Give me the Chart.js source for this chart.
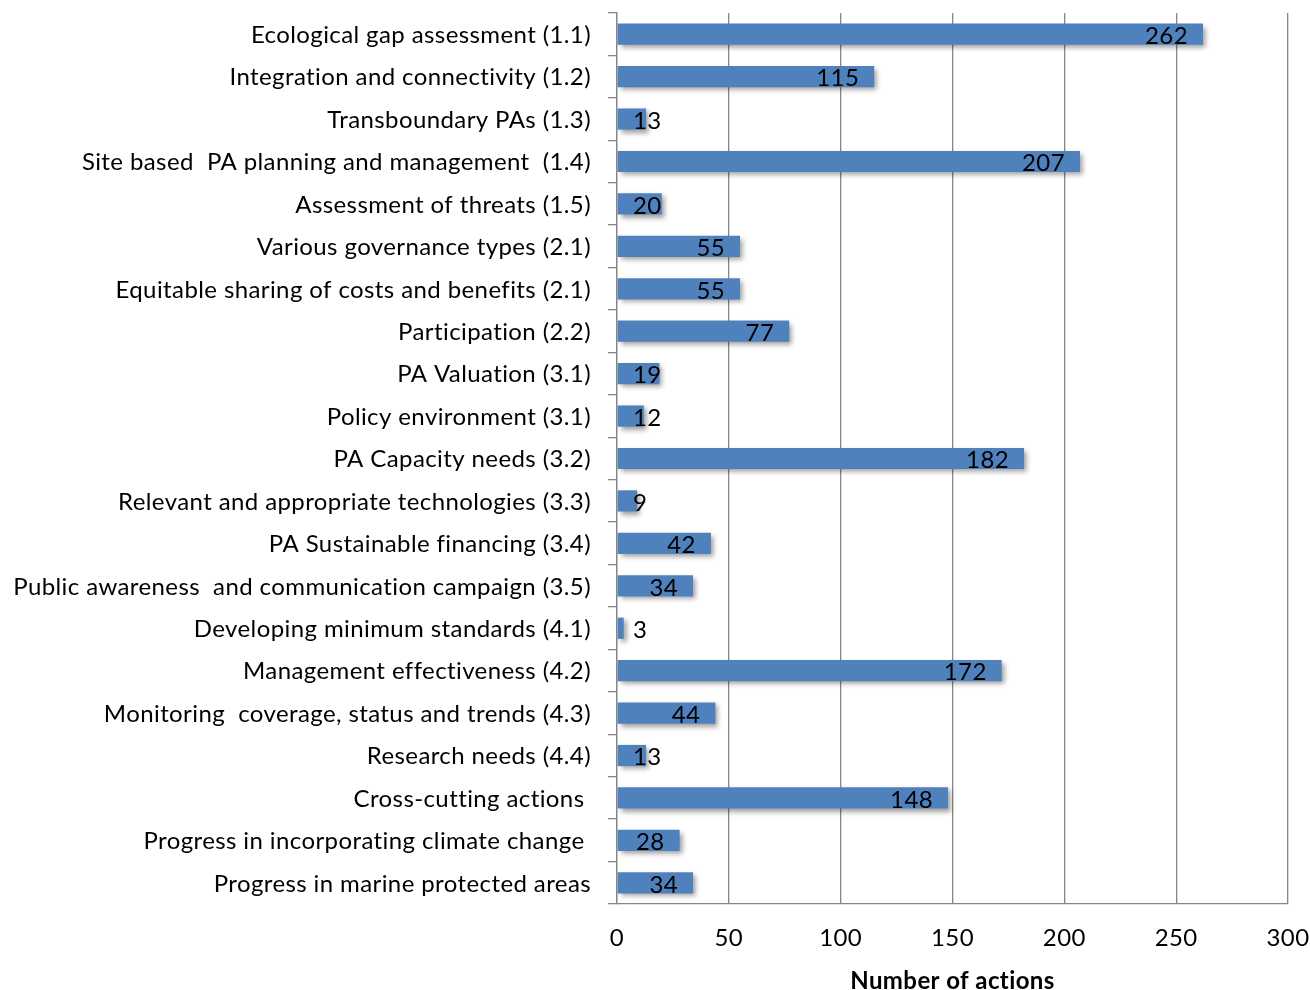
<!DOCTYPE html>
<html>
<head>
<meta charset="utf-8">
<script src="https://cdn.jsdelivr.net/npm/chart.js@4.4.1/dist/chart.umd.min.js"></script>
<style>
  html, body { margin: 0; padding: 0; background: #fff; }
  #wrap { width: 1310px; height: 990px; }
</style>
</head>
<body>
<div id="wrap"><canvas id="c" width="1310" height="990"></canvas></div>
<script>
// Protected-area action categories (with programme element numbers)
const categories = [
  "Ecological gap assessment (1.1)",
  "Integration and connectivity (1.2)",
  "Transboundary PAs (1.3)",
  "Site based  PA planning and management  (1.4)",
  "Assessment of threats (1.5)",
  "Various governance types (2.1)",
  "Equitable sharing of costs and benefits (2.1)",
  "Participation (2.2)",
  "PA Valuation (3.1)",
  "Policy environment (3.1)",
  "PA Capacity needs (3.2)",
  "Relevant and appropriate technologies (3.3)",
  "PA Sustainable financing (3.4)",
  "Public awareness  and communication campaign (3.5)",
  "Developing minimum standards (4.1)",
  "Management effectiveness (4.2)",
  "Monitoring  coverage, status and trends (4.3)",
  "Research needs (4.4)",
  "Cross-cutting actions ",
  "Progress in incorporating climate change ",
  "Progress in marine protected areas"
];

// Number of actions reported per category
const actionCounts = [262, 115, 13, 207, 20, 55, 55, 77, 19, 12, 182, 9, 42, 34, 3, 172, 44, 13, 148, 28, 34];

// Horizontal axis ticks
const xTickValues = [0, 50, 100, 150, 200, 250, 300];
const xAxisTitle = "Number of actions";

const FONT = "Lato, 'Open Sans', sans-serif";
const BAR_BLUE = "#4F81BD";
const AXIS_GREY = "#868686";

// Slightly open letter spacing for all chart text
const textSpacing = {
  id: "textSpacing",
  beforeDraw(chart) { chart.ctx.letterSpacing = "0.4px"; },
  afterDraw(chart) { chart.ctx.letterSpacing = "0px"; }
};

// Soft drop shadow behind the bars
const barShadow = {
  id: "barShadow",
  beforeDatasetsDraw(chart) {
    const ctx = chart.ctx;
    ctx.save();
    ctx.shadowColor = "rgba(0,0,0,0.38)";
    ctx.shadowBlur = 5;
    ctx.shadowOffsetX = 3;
    ctx.shadowOffsetY = 3;
  },
  afterDatasetsDraw(chart) {
    chart.ctx.restore();
  }
};

// Value labels at the inside end of each bar
const valueLabels = {
  id: "valueLabels",
  afterDatasetsDraw(chart) {
    const ctx = chart.ctx;
    const meta = chart.getDatasetMeta(0);
    const x0 = chart.scales.x.getPixelForValue(0);
    ctx.save();
    ctx.font = "24px " + FONT;
    ctx.fillStyle = "#000";
    ctx.textAlign = "right";
    ctx.textBaseline = "middle";
    meta.data.forEach((bar, i) => {
      const txt = String(chart.data.datasets[0].data[i]);
      const w = ctx.measureText(txt).width;
      const right = Math.max(bar.x - 15, x0 + 16 + w);
      ctx.fillText(txt, right, bar.y + 2);
    });
    ctx.restore();
  }
};

new Chart(document.getElementById("c"), {
  type: "bar",
  data: {
    labels: categories,
    datasets: [{
      data: actionCounts,
      backgroundColor: BAR_BLUE,
      borderWidth: 0,
      barPercentage: 0.5,
      categoryPercentage: 1.0
    }]
  },
  options: {
    indexAxis: "y",
    responsive: false,
    animation: false,
    devicePixelRatio: 1,
    layout: { padding: { top: 13, right: 22, left: 0, bottom: -6 } },
    plugins: {
      legend: { display: false },
      tooltip: { enabled: false }
    },
    scales: {
      x: {
        type: "linear",
        min: 0,
        max: 300,
        afterBuildTicks(scale) {
          scale.ticks = xTickValues.map(v => ({ value: v }));
        },
        afterFit(scale) {
          scale.height = 92;
          scale.paddingLeft = 0;
          scale.paddingRight = 0;
        },
        grid: {
          color: AXIS_GREY,
          lineWidth: 1.3,
          drawTicks: false
        },
        border: { display: true, color: AXIS_GREY, width: 1.3 },
        ticks: {
          color: "#000",
          padding: 20,
          font: { family: FONT, size: 24 }
        },
        title: {
          display: true,
          text: xAxisTitle,
          color: "#000",
          padding: { top: 0, bottom: 0 },
          font: { family: FONT, size: 24, weight: "bold" }
        }
      },
      y: {
        type: "category",
        offset: true,
        afterFit(scale) {
          scale.width = 617;
          scale.paddingTop = 0;
          scale.paddingBottom = 0;
        },
        grid: {
          offset: true,
          drawOnChartArea: false,
          drawTicks: true,
          tickLength: 9,
          color: AXIS_GREY,
          lineWidth: 1.3
        },
        border: { display: true, color: AXIS_GREY, width: 1.3 },
        ticks: {
          color: "#000",
          padding: 17,
          labelOffset: 1,
          autoSkip: false,
          font: { family: FONT, size: 24 }
        }
      }
    }
  },
  plugins: [textSpacing, barShadow, valueLabels]
});
</script>
</body>
</html>
